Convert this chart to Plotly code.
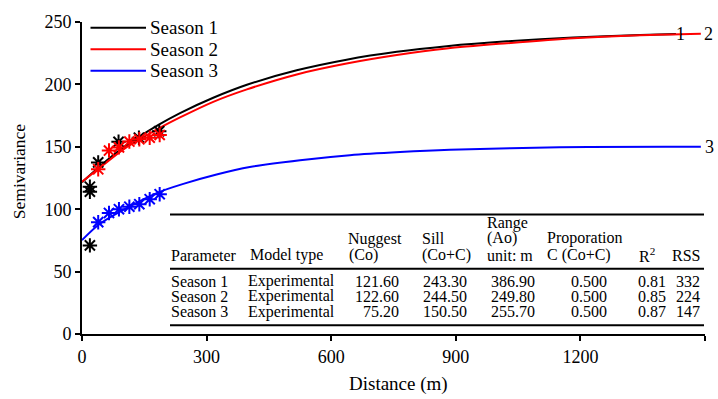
import plotly.graph_objects as go

# ---------------- data ----------------
# fitted model curves
s1_curve_d = [0, 40, 100, 184, 236, 316, 397, 517, 637, 758, 878, 1023, 1183, 1344, 1430]
s1_curve_v = [121.6, 133.5, 149.5, 167.5, 177, 189.3, 199.7, 211.3, 219.8, 226.1, 230.6, 234.5, 237.5, 239.6, 240.4]
s2_curve_d = [0, 40, 100, 184, 236, 316, 397, 517, 637, 758, 878, 1023, 1183, 1344, 1490]
s2_curve_v = [122, 132.5, 148, 164.5, 173.5, 186, 196, 208, 216.7, 223.5, 228.8, 233, 237, 239.4, 240.6]
s3_curve_d = [0, 40, 96, 184, 244, 324, 404, 525, 645, 766, 886, 1150, 1490]
s3_curve_v = [75.2, 87.5, 98.8, 113.5, 120.3, 127.8, 133.8, 139.3, 143.3, 145.8, 147.6, 149.7, 150]

# experimental semivariance points
black_d = [19, 19, 19, 39, 88, 137, 186]
black_v = [118, 114, 71, 137.5, 154, 157.3, 162.5]
red_d = [39, 65, 89, 114, 138, 163, 187]
red_v = [132, 147, 149.5, 154.2, 156, 157.3, 159.5]
blue_d = [39, 65, 89, 114, 138, 163, 187]
blue_v = [89.6, 97, 100, 102, 104, 108, 112]

series_names = ["Season 1", "Season 2", "Season 3"]
series_colors = ["#000000", "#ff0000", "#0000ff"]
end_labels = ["1", "2", "3"]

# table
t_param = ["Season 1", "Season 2", "Season 3"]
t_model = ["Experimental", "Experimental", "Experimental"]
t_nugget = ["121.60", "122.60", "75.20"]
t_sill = ["243.30", "244.50", "150.50"]
t_range = ["386.90", "249.80", "255.70"]
t_prop = ["0.500", "0.500", "0.500"]
t_r2 = ["0.81", "0.85", "0.87"]
t_rss = ["332", "224", "147"]

x_ticks = [0, 300, 600, 900, 1200, 1500]
y_ticks = [0, 50, 100, 150, 200, 250]

# ---------------- layout geometry ----------------
W, H = 718, 399
L, R, T, B = 82, 13, 14, 65
PW, PH = W - L - R, H - T - B
FONT = "Liberation Serif, Times New Roman, serif"


def px(x):
    return (x - L) / PW


def py(y):
    return (H - B - y) / PH


fig = go.Figure()

curves = [(s1_curve_d, s1_curve_v), (s2_curve_d, s2_curve_v), (s3_curve_d, s3_curve_v)]
for (d, v), name, col in zip(curves, series_names, series_colors):
    fig.add_trace(go.Scatter(x=d, y=v, mode="lines", name=name,
                             line=dict(color=col, width=2, shape="spline", smoothing=0.8),
                             showlegend=False))

for d, v, col in [(black_d, black_v, "#000000"), (red_d, red_v, "#ff0000"), (blue_d, blue_v, "#0000ff")]:
    fig.add_trace(go.Scatter(x=d, y=v, mode="markers", showlegend=False, cliponaxis=False,
                             marker=dict(symbol="asterisk-open", size=12, color=col,
                                         line=dict(color=col, width=2))))

shapes = []
annotations = []

# legend (drawn manually)
leg_y = [20, 42, 64]
for yy, name, col in zip(leg_y, series_names, series_colors):
    shapes.append(dict(type="line", xref="paper", yref="paper", x0=px(90.5), x1=px(146), y0=py(yy), y1=py(yy),
                       line=dict(color=col, width=2)))
    annotations.append(dict(xref="paper", yref="paper", x=px(148), y=py(yy), text=name, showarrow=False,
                            xanchor="left", yanchor="middle", font=dict(family=FONT, size=19, color="black")))

# end-of-curve labels
for (xx, yy), lab in zip([(680, 26), (708, 26), (709, 142)], end_labels):
    annotations.append(dict(xref="paper", yref="paper", x=px(xx), y=py(yy), text=lab, showarrow=False,
                            xanchor="center", yanchor="middle", font=dict(family=FONT, size=18, color="black")))

# table rules
for yy in [211.5, 267, 325]:
    shapes.append(dict(type="line", xref="paper", yref="paper", x0=px(170), x1=px(704), y0=py(yy), y1=py(yy),
                       line=dict(color="black", width=2)))

TF = dict(family=FONT, size=16, color="black")


def txt(x, y, s, anchor="left"):
    annotations.append(dict(xref="paper", yref="paper", x=px(x), y=py(y), text=s, showarrow=False,
                            xanchor=anchor, yanchor="middle", font=TF, borderpad=0))


# headers
txt(486, 220, "Range")
txt(347, 236.5, "Nuggest")
txt(421, 236.5, "Sill")
txt(486, 236, "(Ao)")
txt(546, 236, "Proporation")
txt(170, 253, "Parameter")
txt(249, 253, "Model type")
txt(348, 253, "(Co)")
txt(421, 253, "(Co+C)")
txt(486, 253, "unit: m")
txt(546, 253, "C (Co+C)")
txt(638, 253, "R<sup>2</sup>")
txt(671, 253, "RSS")

row_y = [280, 295.5, 311]
for i, yy in enumerate(row_y):
    txt(170, yy, t_param[i])
    txt(246.5, yy, t_model[i])
    txt(400, yy, t_nugget[i], "right")
    txt(421.5, yy, t_sill[i])
    txt(489.5, yy, t_range[i])
    txt(589, yy, t_prop[i], "center")
    txt(636.5, yy, t_r2[i])
    txt(674.5, yy, t_rss[i])

# axis titles
annotations.append(dict(xref="paper", yref="paper", x=px(398), y=py(385), text="Distance (m)", showarrow=False,
                        xanchor="center", yanchor="middle", font=dict(family=FONT, size=19, color="black")))
annotations.append(dict(xref="paper", yref="paper", x=px(19), y=py(168), text="Semivariance", showarrow=False,
                        textangle=-90, xanchor="center", yanchor="middle",
                        font=dict(family=FONT, size=17.5, color="black")))

fig.update_layout(
    width=W, height=H,
    margin=dict(l=L, r=R, t=T, b=B),
    paper_bgcolor="white", plot_bgcolor="white",
    showlegend=False,
    shapes=shapes, annotations=annotations,
    font=dict(family=FONT, color="black"),
)
fig.update_xaxes(range=[0, 1500], tickvals=x_ticks, ticktext=[str(v) for v in x_ticks],
                 showline=True, linecolor="black", linewidth=2, ticks="outside", ticklen=5, tickwidth=2,
                 tickcolor="black", showgrid=False, zeroline=False,
                 tickfont=dict(family=FONT, size=18, color="black"))
fig.update_yaxes(range=[0, 250], tickvals=y_ticks, ticktext=[str(v) for v in y_ticks],
                 showline=True, linecolor="black", linewidth=2, ticks="outside", ticklen=5, tickwidth=2,
                 tickcolor="black", showgrid=False, zeroline=False,
                 tickfont=dict(family=FONT, size=18, color="black"))

fig.write_html("out.html")
